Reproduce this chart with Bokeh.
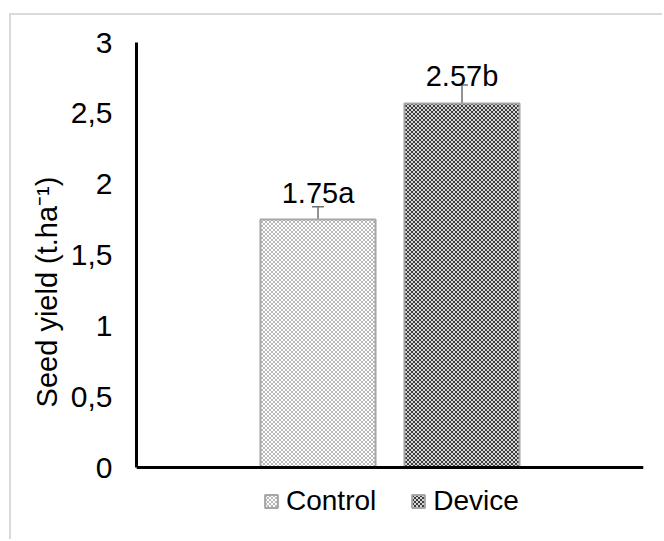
import base64, struct, zlib
from bokeh.plotting import figure
from bokeh.core.properties import value
from bokeh.models import (ColumnDataSource, FixedTicker, Range1d, Whisker, TeeHead,
                          LabelSet, Legend, LegendItem, ImageURLTexture, Span)
from bokeh.embed import file_html
from bokeh.resources import INLINE

# ---- data ----
categories = ["Control", "Device"]
yields = [1.75, 2.57]
errors = [0.09, 0.13]
bar_labels = ["1.75a", "2.57b"]
y_ticks = [0, 0.5, 1, 1.5, 2, 2.5, 3]
y_tick_labels = ["0", "0,5", "1", "1,5", "2", "2,5", "3"]
y_title = "Seed yield (t.ha\u207b\u00b9)"

FONT = "Liberation Sans"
FS = "28px"

# ---- layout geometry (pixels) ----
W, H = 653, 526            # canvas size (page offset 11, 15 by CSS border/margin)
LEFT, RIGHT, TOP = 125, 21, 27
AXIS_TO_ZERO = 425         # pixels from frame top (y=3) to y=0
Y_MAX = 3.0
frame_h = H - TOP
y_start = Y_MAX - frame_h * Y_MAX / AXIS_TO_ZERO


def checker_uri(dark, light):
    rows = []
    for r in range(4):
        row = []
        for c in range(4):
            row.append(dark if ((r // 2) + (c // 2)) % 2 == 0 else light)
        rows.append(row)
    raw = b"".join(b"\x00" + bytes(v for px in row for v in px) for row in rows)

    def chunk(tag, data):
        return (struct.pack(">I", len(data)) + tag + data +
                struct.pack(">I", zlib.crc32(tag + data) & 0xffffffff))

    ihdr = struct.pack(">IIBBBBB", 4, 4, 8, 2, 0, 0, 0)
    png = (b"\x89PNG\r\n\x1a\n" + chunk(b"IHDR", ihdr) +
           chunk(b"IDAT", zlib.compress(raw)) + chunk(b"IEND", b""))
    return "data:image/png;base64," + base64.b64encode(png).decode()


textures = {
    "pat_ctrl": ImageURLTexture(url=checker_uri((184, 184, 184), (255, 255, 255)), repetition="repeat"),
    "pat_dev": ImageURLTexture(url=checker_uri((60, 60, 60), (215, 215, 215)), repetition="repeat"),
}

n = len(categories)
step = 0.284
xs = [0.5 + (i - (n - 1) / 2) * step for i in range(n)]
src = ColumnDataSource(dict(
    x=xs, top=yields, name=categories, label=bar_labels,
    upper=[v + e for v, e in zip(yields, errors)],
    lower=[v - e for v, e in zip(yields, errors)],
    pat=["pat_ctrl", "pat_dev"],
))

p = figure(width=W, height=H, x_range=Range1d(0, 1), y_range=Range1d(y_start, Y_MAX),
           output_backend="svg", toolbar_location=None,
           min_border_left=LEFT, min_border_right=RIGHT, min_border_top=TOP, min_border_bottom=0)
p.styles = {"margin-left": "9px", "margin-top": "13px",
            "border-left": "2px solid #d9d9d9", "border-top": "2px solid #d9d9d9"}
p.outline_line_color = None
p.grid.visible = False
p.background_fill_color = "white"
p.border_fill_color = "white"
p.xaxis.visible = False

r = p.vbar(x="x", top="top", bottom=0, width=0.227, source=src, fill_color="white",
           line_color="#a6a6a6", line_width=2, hatch_pattern="pat", hatch_extra=textures)

w = Whisker(source=src, base="x", upper="upper", lower="lower",
            line_color="#6f6f6f", line_width=1.5,
            upper_head=TeeHead(size=12, line_color="#6f6f6f", line_width=1.5),
            lower_head=TeeHead(size=12, line_color="#6f6f6f", line_width=1.5))
p.add_layout(w)

labels = LabelSet(x="x", y="top", text="label", source=src, text_align="center",
                  text_baseline="alphabetic", y_offset=17, text_font_size="29px",
                  text_font=value(FONT), text_color="black")
p.add_layout(labels)

# category axis baseline at y = 0
p.add_layout(Span(location=0, dimension="width", line_color="black", line_width=3))

# y axis
ya = p.yaxis[0]
ya.bounds = (0, Y_MAX)
ya.ticker = FixedTicker(ticks=y_ticks)
ya.major_label_overrides = {t: l for t, l in zip(y_ticks, y_tick_labels)}
ya.major_tick_out = 0
ya.major_tick_in = 0
ya.minor_tick_out = 0
ya.minor_tick_in = 0
ya.major_label_standoff = 24
ya.major_label_text_font = FONT
ya.major_label_text_font_size = "30px"
ya.major_label_text_color = "black"
ya.axis_line_color = "black"
ya.axis_line_width = 3
ya.axis_label = y_title
ya.axis_label_text_font = FONT
ya.axis_label_text_font_size = "29px"
ya.axis_label_text_font_style = "normal"
ya.axis_label_text_color = "black"
ya.axis_label_standoff = 5

legend = Legend(items=[LegendItem(label=c, renderers=[r], index=i) for i, c in enumerate(categories)],
                orientation="horizontal", location=(127, 24), border_line_color=None,
                background_fill_alpha=0, label_text_font=FONT, label_text_font_size=FS,
                label_text_color="black", glyph_width=16, glyph_height=16,
                label_standoff=7, spacing=34, padding=8, margin=0)
p.add_layout(legend)

open("out.html", "w").write(file_html(p, INLINE))
